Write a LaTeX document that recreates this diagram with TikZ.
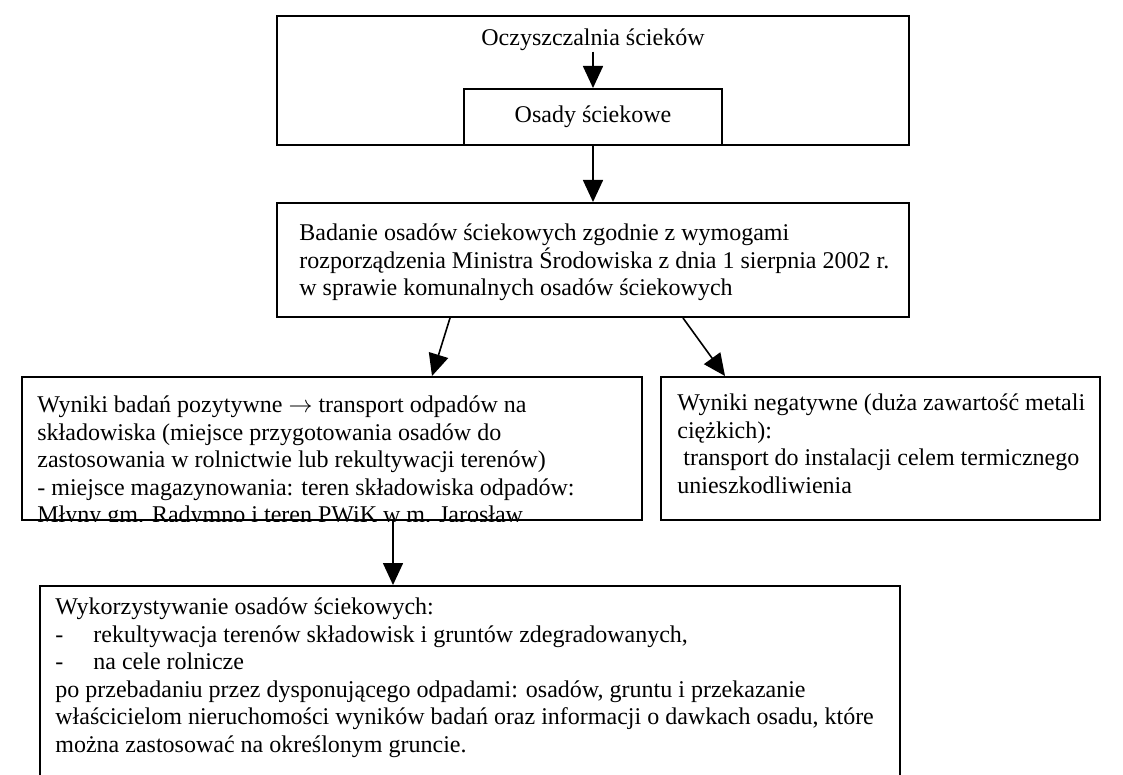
\documentclass[tikz,border=0pt]{standalone}
\usepackage{fontspec}
\setmainfont{Liberation Serif}
\usetikzlibrary{arrows.meta}

\newcommand{\wiersz}{\rule{0pt}{10pt}}

\begin{document}
\begin{tikzpicture}[x=0.5pt, y=-0.5pt,
  ramka/.style={draw=black, line width=1pt, inner sep=0pt},
  opis/.style={anchor=north west, align=left, inner sep=0pt,
    font=\fontsize{12pt}{13.8pt}\selectfont},
  strz/.style={line width=0.8pt, -{Triangle[width=10pt,length=11pt]}}]
  \useasboundingbox (0,0) rectangle (1123,775);
  % oczyszczalnia
  \node[ramka, minimum width=316pt, minimum height=64.5pt] (zaklad) at (593,80.5) {};
  \node[opis, anchor=base] (oczysz) at (593,46) {Oczyszczalnia ścieków};
  \node[ramka, minimum width=129pt, minimum height=28pt,
        font=\fontsize{12pt}{13.8pt}\selectfont] (osady) at (593,117) {Osady ściekowe};
  \draw[strz] (oczysz.south) -- (osady.north);

  % badanie
  \node[ramka, minimum width=316pt, minimum height=57pt] (badanie) at (593,260) {};
  \node[opis] (tbadanie) at (299,220) {\wiersz Badanie osadów ściekowych zgodnie z wymogami\\
    rozporządzenia Ministra Środowiska z dnia 1 sierpnia 2002 r.\\
    w sprawie komunalnych osadów ściekowych};
  \draw[strz] (osady.south) -- (badanie.north);

  % wyniki
  \node[ramka, minimum width=310pt, minimum height=71.5pt] (pozyt) at (332,448.5) {};
  \begin{scope}
    \clip (pozyt.north west) rectangle (pozyt.south east);
    \node[opis] (tpozyt) at (37,392) {\wiersz Wyniki badań pozytywne $\rightarrow$ transport odpadów na\\
      składowiska (miejsce przygotowania osadów do\\
      zastosowania w rolnictwie lub rekultywacji terenów)\\
      - miejsce magazynowania: teren składowiska odpadów:\\
      Młyny gm. Radymno i teren PWiK w m. Jarosław};
  \end{scope}
  \node[ramka, minimum width=219.5pt, minimum height=71.5pt] (negat) at (880.5,448.5) {};
  \node[opis] (tnegat) at (677,390) {\wiersz Wyniki negatywne (duża zawartość metali\\
    ciężkich):\\
    \hspace{3pt}transport do instalacji celem termicznego\\
    unieszkodliwienia};
  \draw[strz] ([xshift=-71.5pt]badanie.south) -- ([xshift=50pt]pozyt.north);
  \draw[strz] ([xshift=45pt]badanie.south) -- ([xshift=-77.75pt]negat.north);

  % wykorzystanie
  \node[ramka, minimum width=430pt, minimum height=107pt] (wykorz) at (470,693) {};
  \node[opis] (twykorz) at (55,594) {\wiersz Wykorzystywanie osadów ściekowych:\\
    \makebox[19pt][l]{-}rekultywacja terenów składowisk i gruntów zdegradowanych,\\
    \makebox[19pt][l]{-}na cele rolnicze\\
    po przebadaniu przez dysponującego odpadami: osadów, gruntu i przekazanie\\
    właścicielom nieruchomości wyników badań oraz informacji o dawkach osadu, które\\
    można zastosować na określonym gruncie.};
  \draw[strz] ([xshift=30.5pt]pozyt.south) -- ([xshift=-38.5pt]wykorz.north);
\end{tikzpicture}
\end{document}
